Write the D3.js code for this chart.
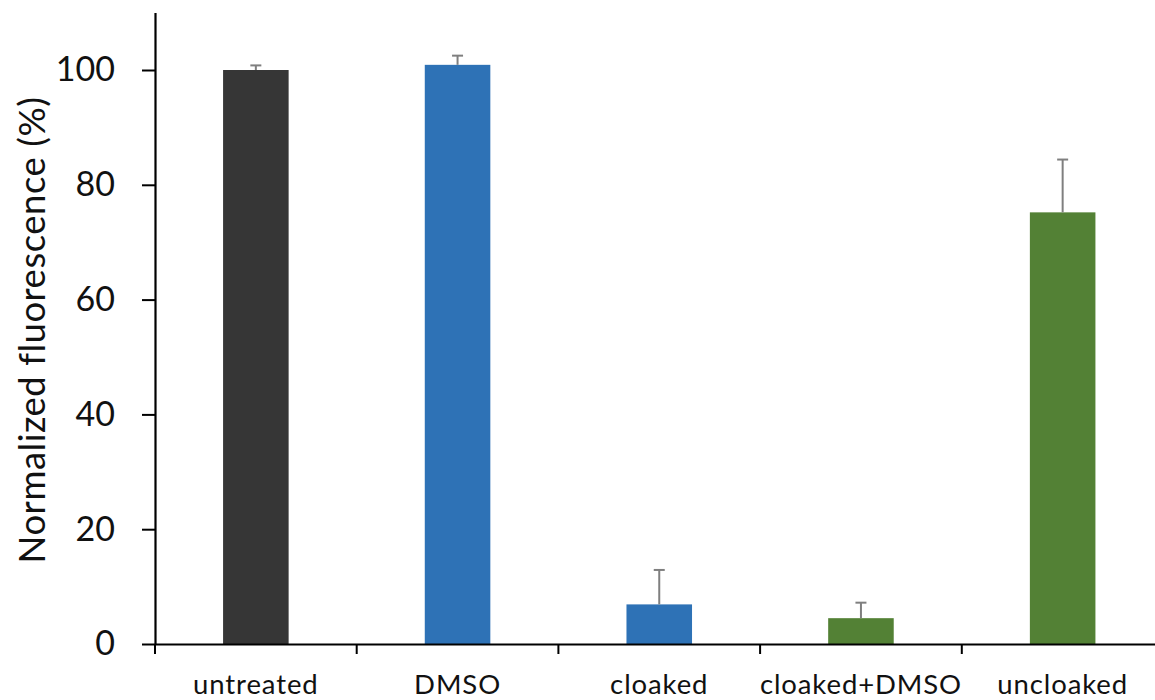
<!DOCTYPE html>
<html><head><meta charset="utf-8">
<script src="https://cdn.jsdelivr.net/npm/d3@7"></script>
<style>body{margin:0;background:#fff;}svg{display:block;font-family:Lato,"Open Sans",sans-serif;}</style>
</head><body>
<svg id="c" width="1155" height="700"></svg>
<script>
const categories = ["untreated","DMSO","cloaked","cloaked+DMSO","uncloaked"];
const values = [100, 100.9, 6.9, 4.5, 75.2];
const errors = [0.8, 1.6, 6.0, 2.7, 9.2];
const colors = ["#363636","#2e72b6","#2e72b6","#538135","#538135"];
const yTicks = [0,20,40,60,80,100];
const yLabel = "Normalized fluorescence (%)";

const FONT = "Lato, 'Open Sans', sans-serif";
const svg = d3.select("#c");
const x = d3.scaleBand().domain(categories).range([155, 1163.5]).padding(0);
const y = d3.scaleLinear().domain([0,110]).range([644, 12.6]);
const bw = x.bandwidth()*0.325;

// bars
svg.append("g").selectAll("rect").data(categories).join("rect")
  .attr("x", d => x(d) + x.bandwidth()/2 - bw/2)
  .attr("width", bw)
  .attr("y", (d,i) => y(values[i]))
  .attr("height", (d,i) => y(0) - y(values[i]))
  .attr("fill", (d,i) => colors[i]);

// error bars
const eg = svg.append("g").attr("stroke","#7f7f7f").attr("stroke-width",2);
categories.forEach((d,i) => {
  const cx = x(d) + x.bandwidth()/2;
  eg.append("line").attr("x1",cx).attr("x2",cx).attr("y1",y(values[i])).attr("y2",y(values[i]+errors[i]));
  eg.append("line").attr("x1",cx-5.5).attr("x2",cx+5.5).attr("y1",y(values[i]+errors[i])).attr("y2",y(values[i]+errors[i]));
});

// y axis
const ya = svg.append("g").attr("transform","translate(155,0)")
  .call(d3.axisLeft(y).tickValues(yTicks).tickSize(13).tickPadding(27).tickSizeOuter(0));
ya.select(".domain").attr("stroke","#000").attr("stroke-width",2.2);
ya.selectAll(".tick line").attr("stroke","#000").attr("stroke-width",2);
ya.selectAll(".tick text").attr("font-size",34).attr("fill","#111").attr("font-family",FONT);

// x axis
const xa = svg.append("g").attr("transform","translate(0,644)")
  .call(d3.axisBottom(x).tickSize(0).tickPadding(30).tickSizeOuter(0));
xa.select(".domain").attr("stroke","#000").attr("stroke-width",2.2);
xa.selectAll(".tick text").attr("font-size",27.5).attr("fill","#111").attr("font-family",FONT).attr("letter-spacing","0.9px");
// boundary ticks between categories
const bounds = categories.map(d => x(d));
svg.append("g").selectAll("line").data(bounds).join("line")
  .attr("x1", d=>d).attr("x2", d=>d).attr("y1",644).attr("y2",654)
  .attr("stroke","#000").attr("stroke-width",2);

// y label
svg.append("text").attr("transform","translate(45,330) rotate(-90)")
  .attr("text-anchor","middle").attr("font-size",36.5).attr("fill","#111").attr("font-family",FONT)
  .attr("letter-spacing","0.5px")
  .text(yLabel);
</script>
</body></html>
